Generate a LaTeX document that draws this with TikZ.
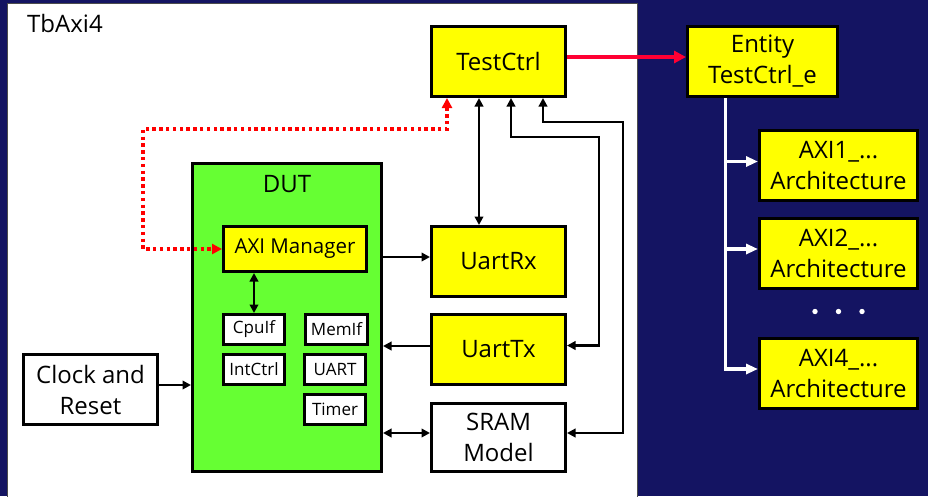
\documentclass[tikz,border=0pt]{standalone}
\usepackage{fontspec}
\setmainfont{Open Sans}
\usetikzlibrary{arrows.meta,calc}
\definecolor{navy}{RGB}{20,20,98}
\definecolor{dutgreen}{RGB}{102,255,51}
\definecolor{boxyellow}{RGB}{255,255,0}
\definecolor{linkred}{RGB}{255,0,51}
\definecolor{dotred}{RGB}{255,0,0}
\begin{document}
\begin{tikzpicture}[x=1pt,y=-1pt,
  box/.style={draw=black,line width=3pt,inner sep=0pt,align=center,text=black},
  big/.style={font=\fontsize{24}{31}\selectfont},
  mid/.style={font=\fontsize{20.5}{24}\selectfont},
  small/.style={font=\fontsize{17}{20}\selectfont},
  yel/.style={box,fill=boxyellow},
  wht/.style={box,fill=white},
  bigbox/.style={minimum width=134pt,minimum height=70pt},
  archbox/.style={yel,big,minimum width=158pt,minimum height=70pt},
  unit/.style={wht,small,minimum width=61pt,minimum height=30pt},
  link/.style={draw=black,line width=2.9pt,-{Triangle[length=8.5pt,width=8.5pt]}},
  both/.style={draw=black,line width=2.9pt,{Triangle[length=8.5pt,width=8.5pt]}-{Triangle[length=8.5pt,width=8.5pt]}},
  redlink/.style={draw=linkred,line width=3.2pt,-{Triangle[length=12pt,width=12pt]}},
  reddots/.style={draw=dotred,line width=3.6pt,dash pattern=on 3.4pt off 3.4pt,
    {Triangle[length=10pt,width=10pt]}-{Triangle[length=10pt,width=10pt]}},
  branch/.style={draw=white,line width=3.4pt,-{Triangle[length=12pt,width=10pt]}}
]
% page and testbench panel
\fill[navy] (0,0) rectangle (928,496);
\useasboundingbox (0,0) rectangle (928,496);
\filldraw[fill=white,draw=black!70,line width=1pt] (7,3) rectangle (637,510);
\node[big,anchor=base west,inner sep=0pt] (tbname) at (27,32) {TbAxi4};

% testbench blocks
\node[yel,big,bigbox] (tc) at (498.5,61.5) {TestCtrl};
\node[yel,big,bigbox] (rx) at (498.5,261.5) {UartRx};
\node[yel,big,bigbox] (tx) at (498.5,349.5) {UartTx};
\node[wht,big,minimum width=134pt,minimum height=68pt] (sram) at (498.5,437.5) {SRAM\\Model};
\node[wht,big,bigbox] (clk) at (90.5,389.5) {Clock and\\Reset};

% device under test
\node[box,fill=dutgreen,minimum width=189pt,minimum height=308pt] (dut) at (287,317.5) {};
\node[big,anchor=base,inner sep=0pt] (dutname) at (287,192) {DUT};
\node[yel,mid,minimum width=143pt,minimum height=45pt] (axim) at (295,249) {AXI Manager};
\node[unit] (cpuif) at (254,329.5) {CpuIf};
\node[unit,minimum width=62pt] (memif) at (336.5,329.5) {MemIf};
\node[unit] (intctrl) at (254,369.5) {IntCtrl};
\node[unit] (uart) at (335,369.5) {UART};
\node[unit] (timer) at (335,409.5) {Timer};

% test controller entity and its architectures
\node[yel,big,minimum width=150pt,minimum height=70pt] (ent) at (762.5,61.5) {Entity\\TestCtrl\_e};
\node[archbox] (a1) at (838.5,165.5) {AXI1\_...\\Architecture};
\node[archbox] (a2) at (838.5,253) {AXI2\_...\\Architecture};
\node[archbox] (a4) at (838.5,373) {AXI4\_...\\Architecture};
\foreach \dx in {-23.5,0,23.5}
  \fill[white] ($(a2.south)!0.5!(a4.north)+(\dx,-1.5)$) circle (2.7pt);

% coordinates for routed connectors
\coordinate (trunk) at ($(ent.south west)+(39.5,0)$);
\coordinate (txtop) at ($(tc.south)+(12.5,0)$);
\coordinate (srtop) at ($(tc.south)+(44.5,0)$);
\coordinate (rxtop) at ($(tc.south)+(-19.5,0)$);
\coordinate (dottop) at ($(tc.south)+(-51.5,0)$);
\coordinate (txturn) at (599,137);
\coordinate (srturn) at (623,122);
\coordinate (dotturn) at (143,129);

% connectors
\draw[redlink] ($(tc.east)+(0,-4.5)$) -- ($(ent.west)+(0,-4.5)$);
\draw[branch] (trunk) |- ($(a1.west)+(0,-4)$);
\draw[branch] (trunk) |- ($(a2.west)+(0,-4)$);
\draw[branch] (trunk) |- ($(a4.west)+(0,-4)$);

\draw[both] (rxtop) -- (rxtop |- rx.north);
\draw[both] (txtop) |- (txturn) |- ($(tx.east)+(0,-4)$);
\draw[both] (srtop) |- (srturn) |- ($(sram.east)+(0,-4.5)$);
\draw[reddots] (dottop) |- (dotturn) |- (axim.west);

\draw[both] (cpuif.north) -- (cpuif.north |- axim.south);
\draw[link] (dut.east |- {$(rx.west)+(0,-4.5)$}) -- ($(rx.west)+(0,-4.5)$);
\draw[link] ($(tx.west)+(0,-3.5)$) -- (dut.east |- {$(tx.west)+(0,-3.5)$});
\draw[both] (dut.east |- {$(sram.west)+(0,-4.5)$}) -- ($(sram.west)+(0,-4.5)$);
\draw[link] ($(clk.east)+(0,-4.5)$) -- (dut.west |- {$(clk.east)+(0,-4.5)$});
\end{tikzpicture}
\end{document}
